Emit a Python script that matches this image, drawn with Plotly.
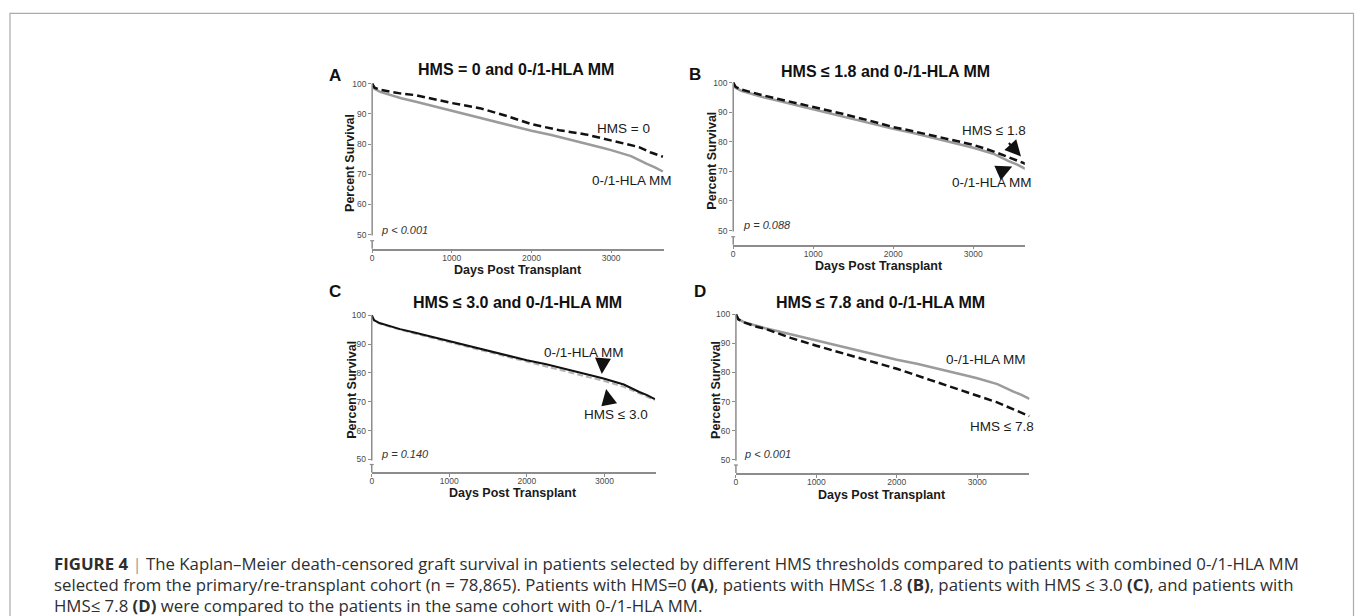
import plotly.graph_objects as go

W, H = 1356, 616

# ---------------- data ----------------
days_mm = [0, 30, 100, 270, 365, 550, 730, 1000, 1365, 1700, 2000, 2250, 2600, 2900, 3000, 3250, 3450, 3550, 3650]
surv_mm = [100, 98.3, 97.3, 95.8, 95.2, 94.0, 92.8, 91.1, 88.7, 86.5, 84.4, 83.0, 80.8, 78.7, 78.0, 76.0, 73.4, 72.3, 70.9]

days_a = [0, 30, 100, 350, 550, 800, 1000, 1350, 1680, 2000, 2350, 2680, 3000, 3350, 3500, 3650]
surv_a = [100, 98.7, 98.0, 96.8, 96.2, 94.8, 93.6, 91.9, 89.4, 86.6, 84.6, 83.2, 81.2, 79.0, 77.2, 75.8]

days_b = [0, 30, 100, 270, 365, 550, 730, 1000, 1365, 1700, 2000, 2250, 2600, 2900, 3000, 3250, 3450, 3550, 3650]
surv_b = [100, 98.6, 97.7, 96.4, 95.8, 94.6, 93.5, 91.9, 89.5, 87.2, 85.0, 83.6, 81.5, 79.6, 79.0, 76.8, 74.7, 73.6, 72.6]

days_c = [0, 30, 100, 270, 365, 550, 730, 1000, 1365, 1700, 2000, 2250, 2600, 2900, 3000, 3250, 3450, 3550, 3650]
surv_c = [100, 98.2, 97.1, 95.6, 95.0, 93.7, 92.5, 90.7, 88.2, 85.9, 83.8, 82.3, 80.0, 77.9, 77.2, 75.2, 73.0, 71.9, 70.6]

days_d = [0, 30, 100, 270, 365, 680, 1000, 1590, 2000, 2420, 2830, 3240, 3650]
surv_d = [100, 98.3, 97.2, 95.6, 95.0, 91.9, 89.2, 84.6, 81.3, 77.4, 73.5, 69.8, 65.0]

x_ticks = [0, 1000, 2000, 3000]
y_ticks = [50, 60, 70, 80, 90, 100]

panel_titles = ["HMS = 0 and 0-/1-HLA MM", "HMS ≤ 1.8 and 0-/1-HLA MM",
                "HMS ≤ 3.0 and 0-/1-HLA MM", "HMS ≤ 7.8 and 0-/1-HLA MM"]
panel_letters = ["A", "B", "C", "D"]
p_values = ["p &lt; 0.001", "p = 0.088", "p = 0.140", "p &lt; 0.001"]
x_title = "Days Post Transplant"
y_title = "Percent Survival"

caption_lines = [
    "<b>FIGURE 4</b> <span style='color:#9a9a9a'>|</span> The Kaplan–Meier death-censored graft survival in patients selected by different HMS thresholds compared to patients with combined 0-/1-HLA MM",
    "selected from the primary/re-transplant cohort (n = 78,865). Patients with HMS=0 <b>(A)</b>, patients with HMS≤ 1.8 <b>(B)</b>, patients with HMS ≤ 3.0 <b>(C)</b>, and patients with",
    "HMS≤ 7.8 <b>(D)</b> were compared to the patients in the same cohort with 0-/1-HLA MM.",
]

# ---------------- layout geometry (pixels) ----------------
FONT = "Liberation Sans, Arial, Helvetica, sans-serif"
CAPFONT = "Open Sans, Liberation Sans, Arial, sans-serif"
AXC = "#8c8c8c"
GRAY = "#9b9b9b"

geo = [
    dict(x0=370.7, x3000=610.0, xend=663.0, y100=82.0, y50=233.3, ybase=247.5),
    dict(x0=732.3, x3000=972.7, xend=1024.3, y100=81.0, y50=229.3, ybase=243.5),
    dict(x0=370.3, x3000=603.3, xend=655.0, y100=314.3, y50=459.0, ybase=472.0),
    dict(x0=735.0, x3000=976.7, xend=1029.0, y100=313.3, y50=459.3, ybase=472.5),
]


def px(x):
    return x / W


def py(y):
    return 1 - y / H


fig = go.Figure()
shapes = []
annotations = []

series = [
    (days_a, surv_a, "HMS = 0"),
    (days_b, surv_b, "HMS ≤ 1.8"),
    (days_c, surv_c, "HMS ≤ 3.0"),
    (days_d, surv_d, "HMS ≤ 7.8"),
]

for i, g in enumerate(geo):
    n = i + 1
    xa = "x" if n == 1 else f"x{n}"
    ya = "y" if n == 1 else f"y{n}"
    pu = (g["y50"] - g["y100"]) / 50.0
    y_hi = 100 + 3 / pu
    y_lo = 50 - (g["ybase"] - g["y50"]) / pu
    x_hi = (g["xend"] - g["x0"]) / (g["x3000"] - g["x0"]) * 3000

    xkey = "xaxis" if n == 1 else f"xaxis{n}"
    ykey = "yaxis" if n == 1 else f"yaxis{n}"
    fig.layout[xkey] = dict(
        domain=[px(g["x0"]), px(g["xend"])], range=[0, x_hi], anchor=ya,
        showline=True, linecolor=AXC, linewidth=1.5, showgrid=False, zeroline=False,
        ticks="outside", ticklen=3, tickwidth=1, tickcolor=AXC, tickvals=x_ticks,
        ticklabelstandoff=-3,
        tickfont=dict(size=8.5, color="#4a4a4a", family=FONT), fixedrange=True,
    )
    fig.layout[ykey] = dict(
        domain=[py(g["ybase"]), py(g["y100"] - 3)], range=[y_lo, y_hi], anchor=xa,
        showline=False, showgrid=False, zeroline=False,
        ticks="outside", ticklen=3, tickwidth=1, tickcolor=AXC, tickvals=y_ticks,
        tickfont=dict(size=8.5, color="#4a4a4a", family=FONT), fixedrange=True,
    )

    dx, dy, name = series[i]
    if n == 3:
        fig.add_trace(go.Scatter(x=dx, y=dy, mode="lines", name=name, xaxis=xa, yaxis=ya,
                                 line=dict(color="#b4b4b4", width=2, dash="6px,3px")))
        fig.add_trace(go.Scatter(x=days_mm, y=surv_mm, mode="lines", name="0-/1-HLA MM",
                                 xaxis=xa, yaxis=ya, line=dict(color="#111111", width=2)))
    else:
        fig.add_trace(go.Scatter(x=days_mm, y=surv_mm, mode="lines", name="0-/1-HLA MM",
                                 xaxis=xa, yaxis=ya, line=dict(color=GRAY, width=2.5)))
        fig.add_trace(go.Scatter(x=dx, y=dy, mode="lines", name=name, xaxis=xa, yaxis=ya,
                                 line=dict(color="#111111", width=2.5, dash="8px,4px")))

    # broken y axis line
    shapes.append(dict(type="line", xref="paper", yref="paper",
                       x0=px(g["x0"]), x1=px(g["x0"]), y0=py(g["y50"] + 1), y1=py(g["y100"]),
                       line=dict(color=AXC, width=1.5)))
    shapes.append(dict(type="line", xref="paper", yref="paper",
                       x0=px(g["x0"]), x1=px(g["x0"]), y0=py(g["ybase"]), y1=py(g["ybase"] - 8),
                       line=dict(color=AXC, width=1.5)))
    shapes.append(dict(type="line", xref="paper", yref="paper",
                       x0=px(g["x0"] - 2), x1=px(g["x0"] + 2), y0=py(g["ybase"] - 8), y1=py(g["ybase"] - 8),
                       line=dict(color=AXC, width=1.2)))

# ---------------- text ----------------
def txt(x, y, text, size, bold=False, italic=False, color="#1a1a1a", angle=0, xanchor="center", family=FONT):
    t = text
    if bold:
        t = f"<b>{t}</b>"
    if italic:
        t = f"<i>{t}</i>"
    annotations.append(dict(xref="paper", yref="paper", x=px(x), y=py(y), text=t, showarrow=False,
                            xanchor=xanchor, yanchor="middle", textangle=angle,
                            font=dict(family=family, size=size, color=color)))


title_pos = [(514.7, 67.7), (885.3, 69.5), (515.8, 301.0), (879.7, 301.0)]
letter_pos = [(333.3, 73.3), (694.5, 72.7), (333.3, 290.0), (698.8, 290.0)]
p_pos = [(403.2, 228.5), (766.2, 224.2), (403.2, 453.2), (767.0, 453.8)]
xt_pos = [(516.7, 268.7), (877.8, 265.3), (511.7, 492.7), (881.8, 494.2)]
yt_pos = [(348.3, 161.7), (711.0, 159.2), (350.3, 389.2), (715.0, 389.2)]

for i in range(4):
    txt(*title_pos[i], panel_titles[i], 16, bold=True, color="#111111")
    txt(*letter_pos[i], panel_letters[i], 17, bold=True, color="#111111")
    txt(*p_pos[i], p_values[i], 11, italic=True, color="#333333")
    txt(*xt_pos[i], x_title, 12.5, bold=True, color="#1a1a1a")
    txt(*yt_pos[i], y_title, 12.5, bold=True, color="#1a1a1a", angle=-90)

# curve labels
txt(622.2, 126.7, "HMS = 0", 13.5, color="#1a1a1a")
txt(630.5, 179.2, "0-/1-HLA MM", 13.5, color="#1a1a1a")
txt(993.3, 129.2, "HMS ≤ 1.8", 13.5, color="#1a1a1a")
txt(991.2, 180.8, "0-/1-HLA MM", 13.5, color="#1a1a1a")
txt(583.3, 352.0, "0-/1-HLA MM", 13.5, color="#1a1a1a")
txt(615.0, 413.8, "HMS ≤ 3.0", 13.5, color="#1a1a1a")
txt(985.3, 358.7, "0-/1-HLA MM", 13.5, color="#1a1a1a")
txt(1001.2, 425.5, "HMS ≤ 7.8", 13.5, color="#1a1a1a")

# arrows (tail -> head, pixels)
arrows = [((1007.0, 140.0), (1020.5, 155.0)),
          ((996.0, 172.0), (1011.7, 165.0)),
          ((601.7, 359.5), (600.7, 373.3)),
          ((607.5, 401.0), (605.0, 388.3))]
for (tx, ty), (hx, hy) in arrows:
    annotations.append(dict(xref="paper", yref="paper", x=px(hx), y=py(hy), ax=tx - hx, ay=ty - hy,
                            axref="pixel", ayref="pixel", text="", showarrow=True,
                            arrowhead=2, arrowsize=1.6, arrowwidth=2, arrowcolor="#111111", standoff=0))

# caption
cap_y = [563.5, 584.5, 605.0]
for line, yy in zip(caption_lines, cap_y):
    txt(50, yy, line, 16.8, color="#2e2e2e", xanchor="left", family=CAPFONT)

# border
shapes.append(dict(type="rect", xref="paper", yref="paper", x0=px(8), x1=px(1353.5), y0=-0.05, y1=py(11.5),
                   line=dict(color="#ababab", width=1.2)))

fig.update_layout(
    width=W, height=H, margin=dict(l=0, r=0, t=0, b=0),
    paper_bgcolor="white", plot_bgcolor="white", showlegend=False,
    shapes=shapes, annotations=annotations,
    font=dict(family=FONT),
)

fig.write_html("out.html", config={"displayModeBar": False},
               post_script="document.body.style.margin='0';document.body.style.overflow='hidden';")
